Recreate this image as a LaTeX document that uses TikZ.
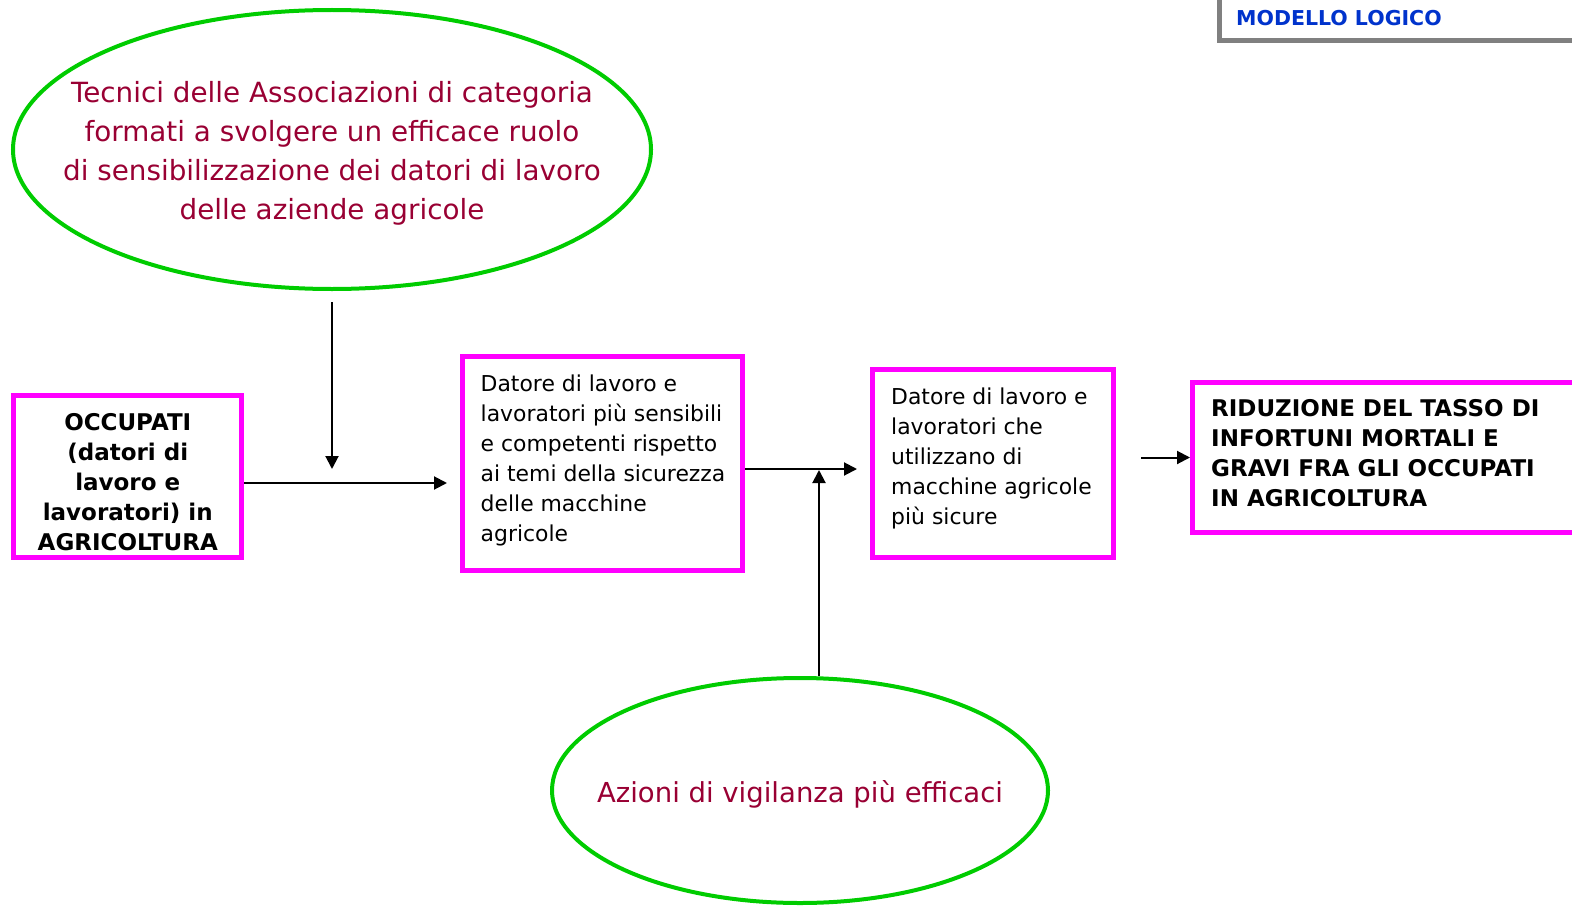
\documentclass[tikz,border=0pt]{standalone}
\usepackage{fontspec}
\setmainfont{DejaVu Sans}
\usetikzlibrary{shapes.geometric,arrows.meta}
\definecolor{mag}{RGB}{255,0,255}
\definecolor{grn}{RGB}{0,204,0}
\definecolor{dred}{RGB}{153,0,51}
\definecolor{blu}{RGB}{0,51,204}
\definecolor{frm}{RGB}{128,128,128}
\tikzset{
  oval/.style={ellipse, draw=grn, line width=4pt, inner sep=0pt},
  ovaltext/.style={text=dred, align=center, inner sep=0pt},
  mbox/.style={rectangle, draw=mag, line width=5pt, inner sep=0pt},
  plain/.style={inner sep=0pt, align=left, anchor=west, font=\fontsize{21.9pt}{30pt}\selectfont},
  heavy/.style={inner sep=0pt, font=\fontsize{23pt}{30pt}\selectfont\bfseries},
  arr/.style={line width=2pt, -{Triangle[length=13pt,width=13pt]}},
}
\begin{document}
\begin{tikzpicture}[x=1pt,y=-1pt]
\useasboundingbox (0,0) rectangle (1572,907);
% title
\draw[line width=5pt, frm] (1219,-10) -- (1219,40.5) -- (1590,40.5);
\node[anchor=west, inner sep=0pt, text=blu, font=\fontsize{20.5pt}{24pt}\selectfont\bfseries] (title) at (1236,18.5) {MODELLO LOGICO};
% ellipses
\node[oval, minimum width=638pt, minimum height=279pt] (e1) at (332,149.5) {};
\node[ovaltext, font=\fontsize{27.8pt}{39pt}\selectfont] (t1) at (332,153.5)
  {Tecnici delle Associazioni di categoria\\formati a svolgere un efficace ruolo\\di sensibilizzazione dei datori di lavoro\\delle aziende agricole};
\node[oval, minimum width=496pt, minimum height=225pt] (e2) at (800,790.5) {};
\node[ovaltext, font=\fontsize{27.5pt}{39pt}\selectfont] (t2) at (800,794.5)
  {Azioni di vigilanza più efficaci};
% boxes
\node[mbox, minimum width=228pt, minimum height=162pt] (b1) at (127.75,476.5) {};
\node[heavy, align=center] (tb1) at (127.75,482.5)
  {OCCUPATI\\(datori di\\lavoro e\\lavoratori) in\\AGRICOLTURA};
\node[mbox, minimum width=280pt, minimum height=214pt] (b2) at (602.5,463.5) {};
\node[plain] (tb2) at (480.5,460.5)
  {Datore di lavoro e\\lavoratori più sensibili\\e competenti rispetto\\ai temi della sicurezza\\delle macchine\\agricole};
\node[mbox, minimum width=241pt, minimum height=188pt] (b3) at (993,463.5) {};
\node[plain] (tb3) at (891,458.5)
  {Datore di lavoro e\\lavoratori che\\utilizzano di\\macchine agricole\\più sicure};
\node[mbox, minimum width=420pt, minimum height=150pt, anchor=west] (b4) at (1190,457.5) {};
\node[heavy, align=left, anchor=west] (tb4) at (1211,453.5)
  {RIDUZIONE DEL TASSO DI\\INFORTUNI MORTALI E\\GRAVI FRA GLI OCCUPATI\\IN AGRICOLTURA};
% connectors
\coordinate (m1) at (332,469);
\coordinate (m2) at (819,470);
\coordinate (a1) at (0,483);
\coordinate (a2) at (0,469);
\draw[arr] (b1.east |- a1) -- ([xshift=-13pt]b2.west |- a1);
\draw[arr, shorten <=11pt] (e1.south -| m1) -- (m1);
\draw[arr] (b2.east |- a2) -- ([xshift=-13pt]b3.west |- a2);
\draw[arr] (e2.north -| m2) -- (m2);
\draw[arr, shorten <=25pt] (b3.east |- b4.west) -- (b4.west);
\end{tikzpicture}
\end{document}
